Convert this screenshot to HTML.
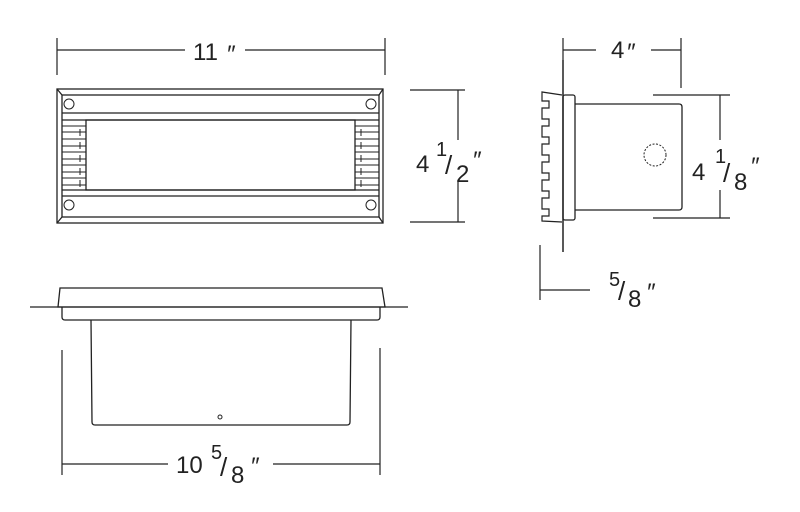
<!DOCTYPE html>
<html><head><style>body{margin:0;background:#fff}svg{display:block}text{font-family:"Liberation Sans",sans-serif;fill:#222}</style></head><body>
<svg width="800" height="512" viewBox="0 0 800 512" stroke="#222" fill="none" stroke-width="1.3">
<!-- front view -->
<rect x="57" y="89" width="326" height="134"/>
<rect x="62" y="95" width="317" height="122"/>
<line x1="57" y1="89" x2="62" y2="95"/><line x1="383" y1="89" x2="379" y2="95"/>
<line x1="57" y1="223" x2="62" y2="217"/><line x1="383" y1="223" x2="379" y2="217"/>
<line x1="62" y1="113" x2="379" y2="113"/><line x1="62" y1="120" x2="379" y2="120"/>
<line x1="62" y1="190" x2="379" y2="190"/><line x1="62" y1="196" x2="379" y2="196"/>
<rect x="86" y="120" width="269" height="70" stroke-width="1.3"/>
<g stroke-width="1">
<path d="M62 126H86M62 132H86M62 139H86M62 146H86M62 152H86M62 159H86M62 165H86M62 172H86M62 178H86M62 185H86"/>
<path d="M355 126H379M355 132H379M355 139H379M355 146H379M355 152H379M355 159H379M355 165H379M355 172H379M355 178H379M355 185H379"/>
<path d="M80 129V136M80 142V149M80 155V162M80 168V175M80 180V187M361 129V136M361 142V149M361 155V162M361 168V175M361 180V187"/>
</g>
<g stroke-width="1"><circle cx="69" cy="104" r="5"/><circle cx="371" cy="104" r="5"/><circle cx="69" cy="205" r="5"/><circle cx="371" cy="205" r="5"/></g>
<!-- dims front -->
<g stroke-width="1.2">
<line x1="57" y1="38" x2="57" y2="75"/><line x1="385" y1="38" x2="385" y2="75"/>
<line x1="57" y1="50" x2="185" y2="50"/><line x1="245" y1="50" x2="385" y2="50"/>
<line x1="410" y1="90" x2="465" y2="90"/><line x1="410" y1="222" x2="465" y2="222"/>
<line x1="458" y1="90" x2="458" y2="140"/><line x1="458" y1="182" x2="458" y2="222"/>
</g>
<g stroke="none">
<text x="193" y="60" font-size="24">11</text><text x="226" y="62" font-size="24" font-style="italic">″</text>
<text x="416" y="172" font-size="24">4</text><text x="436" y="156" font-size="20">1</text>
<text x="445" y="174" font-size="26">/</text><text x="456" y="182" font-size="24">2</text><text x="472" y="168" font-size="24" font-style="italic">″</text>
</g>
<!-- side view -->
<line x1="563" y1="60" x2="563" y2="252" stroke-width="1.5"/>
<path d="M562 95L542 92V101H549V108H542V119H549V126H542V137H549V144H542V155H549V162H542V173H549V180H542V191H549V198H542V209H549V216H542V221L562 222" stroke-width="1.2"/>
<rect x="563" y="95" width="12" height="125" rx="2"/>
<path d="M575 104H679Q682 104 682 107V207Q682 210 679 210H575"/>
<circle cx="655" cy="155" r="11" stroke-dasharray="2 1.5" stroke-width="1"/>
<g stroke-width="1.2">
<line x1="563" y1="38" x2="563" y2="60"/><line x1="563" y1="50" x2="596" y2="50"/>
<line x1="651" y1="50" x2="681" y2="50"/><line x1="681" y1="38" x2="681" y2="88"/>
<line x1="653" y1="95" x2="730" y2="95"/><line x1="653" y1="218" x2="730" y2="218"/>
<line x1="720" y1="95" x2="720" y2="140"/><line x1="720" y1="190" x2="720" y2="218"/>
<line x1="540" y1="245" x2="540" y2="300"/><line x1="540" y1="290" x2="590" y2="290"/>
</g>
<g stroke="none">
<text x="611" y="58" font-size="24">4</text><text x="626" y="60" font-size="24" font-style="italic">″</text>
<text x="692" y="180" font-size="24">4</text><text x="715" y="163" font-size="20">1</text>
<text x="723" y="182" font-size="26">/</text><text x="734" y="190" font-size="24">8</text><text x="750" y="174" font-size="24" font-style="italic">″</text>
<text x="609" y="286" font-size="20">5</text><text x="618" y="300" font-size="26">/</text><text x="628" y="307" font-size="24">8</text><text x="646" y="300" font-size="24" font-style="italic">″</text>
</g>
<!-- bottom view -->
<line x1="30" y1="307" x2="408" y2="307" stroke-width="1.2"/>
<path d="M58 307L60 288H382L385 307Z"/>
<path d="M62 307V317Q62 320 65 320H377Q380 320 380 317V307"/>
<path d="M91 320L92 422Q92 425 95 425H347Q350 425 350 422L351 320"/>
<circle cx="220" cy="417" r="2" stroke-width="1"/>
<g stroke-width="1.2">
<line x1="62" y1="350" x2="62" y2="475"/><line x1="380" y1="348" x2="380" y2="475"/>
<line x1="62" y1="464" x2="168" y2="464"/><line x1="273" y1="464" x2="380" y2="464"/>
</g>
<g stroke="none">
<text x="176" y="473" font-size="24">10</text><text x="211" y="459" font-size="20">5</text>
<text x="220" y="476" font-size="26">/</text><text x="231" y="483" font-size="24">8</text><text x="250" y="474" font-size="24" font-style="italic">″</text>
</g>
</svg>
</body></html>
